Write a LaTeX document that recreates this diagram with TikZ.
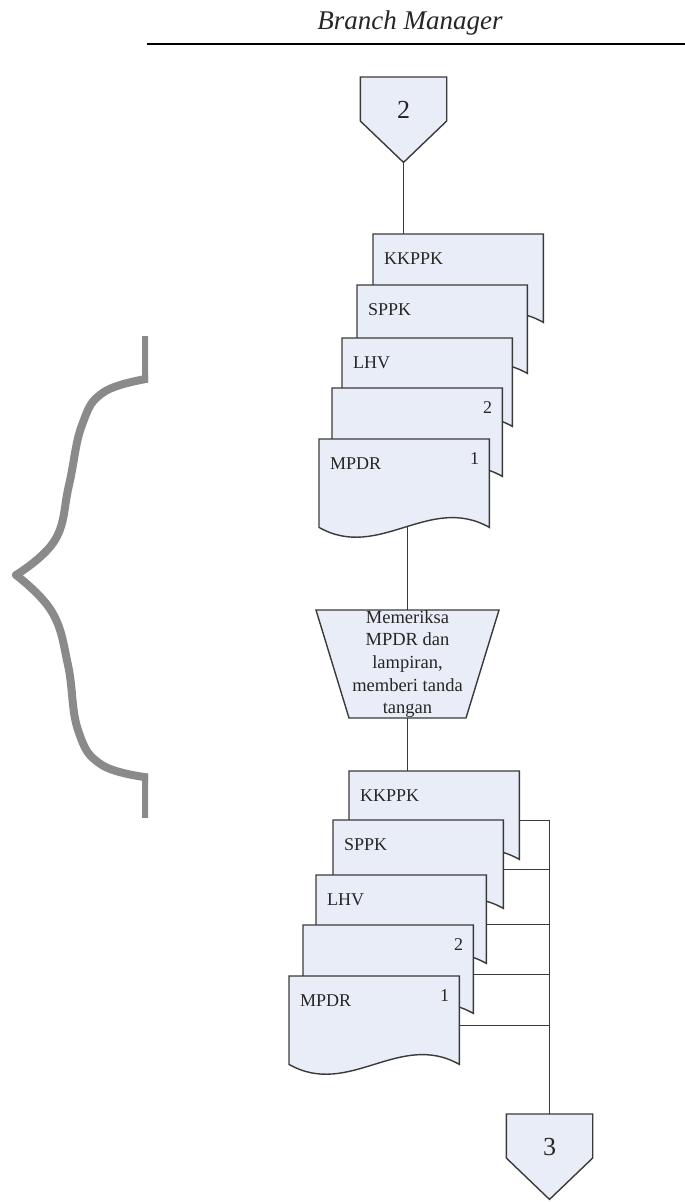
\documentclass[tikz,border=0pt]{standalone}
\usepackage{fontspec}
\setmainfont{Liberation Serif}
\usetikzlibrary{positioning, calc}

\definecolor{pagefill}{RGB}{232,237,247}
\definecolor{pageedge}{RGB}{58,58,58}
\definecolor{markgray}{RGB}{138,138,138}

% document symbol with a wavy bottom edge: name, top-left corner, label, copy number
\newcommand{\flowpage}[4]{%
  \node[pagebox] (#1) at (#2) {};
  \filldraw[symline] (#1.north west) -- (#1.north east) -- (#1.south east)
    .. controls +(-60,-34) and +(60,34) .. (#1.south west) -- cycle;
  \node[pagelabel, anchor=west] (#1-name) at ($(#1.north west)+(11,25)$) {#3};
  \node[pagelabel, anchor=east] (#1-copy) at ($(#1.north east)+(-10,20)$) {#4};
}

% off-page connector: name, top centre, number
\newcommand{\offpage}[3]{%
  \node[offbox] (#1) at (#2) {};
  \filldraw[symline] (#1.north west) -- (#1.north east) -- ($(#1.north east)+(0,44)$)
    -- (#1.south) -- ($(#1.north west)+(0,44)$) -- cycle;
  \node[offlabel] (#1-num) at ($(#1.north)+(0,33)$) {#3};
}

\begin{document}
\begin{tikzpicture}[
        x=1pt, y=-1pt,
        symline/.style={draw=pageedge, fill=pagefill, line width=1.4pt, line join=miter},
        pagebox/.style={rectangle, anchor=north west, inner sep=0pt, minimum width=170pt, minimum height=88pt},
        pagelabel/.style={inner sep=0pt, text=black!85, font=\fontsize{18}{21}\selectfont},
        offbox/.style={rectangle, anchor=north, inner sep=0pt, minimum width=86pt, minimum height=85pt},
        offlabel/.style={inner sep=0pt, text=black!85, font=\fontsize{26}{30}\selectfont},
        checktext/.style={align=center, inner sep=0pt, minimum height=108pt, text=black!85, font=\fontsize{18.5}{22.6}\selectfont},
        link/.style={draw=pageedge, line width=1.4pt}
    ]
    \useasboundingbox (0,0) rectangle (685,1202);

    % faded mark at the left margin
    \begin{scope}
        \clip (0,300) rectangle (148,850);
        \draw[markgray, line width=8pt, line cap=round] plot[smooth, tension=0.7]
            coordinates {(152,378) (104,392) (82,425) (69,485) (55,540) (16,575)};
        \draw[markgray, line width=8pt, line cap=round] plot[smooth, tension=0.7]
            coordinates {(16,575) (52,612) (68,665) (78,730) (102,765) (152,778)};
        \draw[markgray, line width=7pt] (145,336) -- (145,382);
        \draw[markgray, line width=7pt] (145,774) -- (145,818);
    \end{scope}

    % lane header
    \node[font=\itshape\fontsize{27}{32}\selectfont, text=black!85] (title) at (410,23) {Branch Manager};
    \draw[line width=2.6pt] (147,44) -- (685,44);

    % Define the blocks
    \offpage{off2}{403.5,77}{2}

    \flowpage{topKK}{373,234}{KKPPK}{}
    \flowpage{topSP}{357,285}{SPPK}{}
    \flowpage{topLH}{342,338}{LHV}{}
    \flowpage{topC2}{332,388}{}{2}
    \flowpage{topMP}{319,439}{MPDR}{1}

    \coordinate (checkc) at (407.5,664);
    \filldraw[symline] ($(checkc)+(-91.5,-54)$) -- ($(checkc)+(91.5,-54)$)
        -- ($(checkc)+(58.5,54)$) -- ($(checkc)+(-58.5,54)$) -- cycle;
    \node[checktext] (check) at (checkc) {Memeriksa\\MPDR dan\\lampiran,\\memberi tanda\\tangan};

    \flowpage{botKK}{349,771}{KKPPK}{}
    \flowpage{botSP}{333,820}{SPPK}{}
    \flowpage{botLH}{316,875}{LHV}{}
    \flowpage{botC2}{303,925}{}{2}
    \flowpage{botMP}{289,976}{MPDR}{1}

    \offpage{off3}{549.5,1114}{3}

    % Draw the connecting lines
    \draw[link] (off2.south) -- (off2.south |- topKK.north);
    \draw[link] (check.north) -- (check.north |- topMP.south);
    \draw[link] (check.south) -- (check.south |- botKK.north);
    \foreach \pg in {botKK, botSP, botLH, botC2, botMP}
        \draw[link] ([yshift=-5pt]\pg.east) -- ([yshift=-5pt]\pg.east -| off3.north);
    \draw[link] ([yshift=-5pt]botKK.east -| off3.north) -- (off3.north);

\end{tikzpicture}
\end{document}
